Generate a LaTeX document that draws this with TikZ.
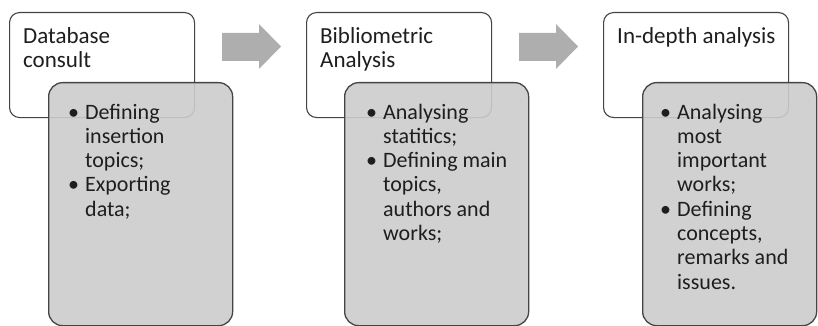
\documentclass[tikz,border=0pt]{standalone}
\usepackage{fontspec}
\setmainfont{Carlito}
\definecolor{boxline}{HTML}{444444}
\definecolor{detailgrey}{HTML}{CCCCCC}
\definecolor{arrowgrey}{HTML}{AEAEAE}
\definecolor{txt}{HTML}{1E1E1E}
\newcommand{\myitem}[1]{\par\hangindent=17pt\hangafter=1\noindent\makebox[17pt][l]{•}#1\par}
\begin{document}
\begin{tikzpicture}[x=1pt,y=-1pt,
  titlebox/.style={draw=boxline, line width=1.1pt, fill=white, rounded corners=10pt,
    rectangle, anchor=north west, minimum width=185pt, minimum height=105pt, inner sep=0pt},
  detailbox/.style={draw=boxline, line width=1.3pt, fill=detailgrey, fill opacity=0.9,
    rounded corners=14pt, rectangle, anchor=north west, minimum width=184pt, minimum height=243pt, inner sep=0pt},
  titletext/.style={anchor=base west, inner sep=0pt, text=txt, font=\fontsize{23}{24}\selectfont},
  itemtext/.style={anchor=base west, inner sep=0pt, text=txt, font=\fontsize{22}{24.3}\selectfont},
  blockarrow/.style={fill=arrowgrey, draw=none}
]
\useasboundingbox (0,0) rectangle (818,326);

% stage 1
\node[titlebox] (t1) at (9,12) {};
\node[detailbox] (d1) at (48,82) {};
\node[titletext] (tt1) at (23,43.5) {\parbox[t]{170pt}{Database\newline consult}};
\node[itemtext] (it1) at (68,119) {\parbox[t]{160pt}{\parskip=0pt
  \myitem{Defining\newline insertion\newline topics;}\myitem{Exporting\newline data;}}};

% stage 2
\node[titlebox] (t2) at (306,12) {};
\node[detailbox] (d2) at (344,82) {};
\node[titletext] (tt2) at (320,43.5) {\parbox[t]{170pt}{Bibliometric\newline Analysis}};
\node[itemtext] (it2) at (366,119) {\parbox[t]{160pt}{\parskip=0pt
  \myitem{Analysing\newline statitics;}\myitem{Defining main\newline topics,\newline authors and\newline works;}}};

% stage 3
\node[titlebox] (t3) at (603,12) {};
\node[detailbox, minimum width=174pt] (d3) at (642,82) {};
\node[titletext] (tt3) at (617,43.5) {\parbox[t]{180pt}{In-depth analysis}};
\node[itemtext] (it3) at (660,119) {\parbox[t]{150pt}{\parskip=0pt
  \myitem{Analysing\newline most\newline important\newline works;}\myitem{Defining\newline concepts,\newline remarks and\newline issues.}}};

% block arrows
\fill[blockarrow] (222,33) -- (259,33) -- (259,24) -- (281,46.5) -- (259,69) -- (259,61) -- (222,61) -- cycle;
\fill[blockarrow] (519,33) -- (556,33) -- (556,24) -- (578,46.5) -- (556,69) -- (556,61) -- (519,61) -- cycle;
\end{tikzpicture}
\end{document}
